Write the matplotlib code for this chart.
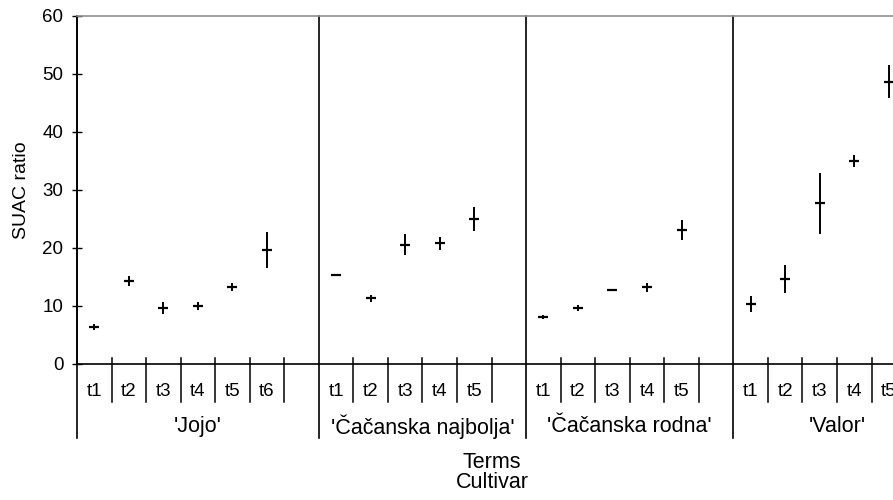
import matplotlib.pyplot as plt

plt.rcParams['font.family'] = ['Liberation Sans', 'DejaVu Sans']

# cultivars and their sampling terms (one empty slot after each group)
cultivars = ["'Jojo'", "'Čačanska najbolja'", "'Čačanska rodna'", "'Valor'"]
terms = [
    ["t1", "t2", "t3", "t4", "t5", "t6"],
    ["t1", "t2", "t3", "t4", "t5"],
    ["t1", "t2", "t3", "t4", "t5"],
    ["t1", "t2", "t3", "t4", "t5"],
]

# SUAC ratio means and error half-widths, per cultivar
means = [
    [6.4, 14.3, 9.7, 10.0, 13.3, 19.6],
    [15.4, 11.3, 20.6, 20.8, 25.0],
    [8.1, 9.7, 12.8, 13.2, 23.1],
    [10.3, 14.6, 27.7, 35.0, 48.7],
]
errs = [
    [0.5, 0.9, 1.0, 0.75, 0.7, 3.1],
    [0.15, 0.6, 1.8, 1.1, 2.0],
    [0.4, 0.5, 0.15, 0.85, 1.8],
    [1.4, 2.4, 5.2, 1.0, 2.9],
]

fig = plt.figure(figsize=(8.93, 5), dpi=100)
ax = fig.add_axes([77 / 893, 1 - 364 / 500, 1 - 77 / 893, 348 / 500])

xs, ys, es = [], [], []
label_x, tick_x, group_x = [], [], []
group_centers = []
start = 0
for g, tl in enumerate(terms):
    n = len(tl) + 1
    group_x.append(start)
    group_centers.append(start + n / 2)
    for i, t in enumerate(tl):
        xs.append(start + i + 0.5)
        ys.append(means[g][i])
        es.append(errs[g][i])
        label_x.append((start + i + 0.5, t))
    for k in range(1, n):
        tick_x.append(start + k)
    start += n
group_x.append(start)

ax.errorbar(xs, ys, yerr=es, fmt='_', color='black', markersize=7,
            mew=1.6, elinewidth=1.4, capsize=0)

ax.set_xlim(0, 23.62)
ax.set_ylim(0, 60)
ax.set_yticks(range(0, 61, 10))
ax.set_xticks([])
ax.tick_params(axis='y', direction='inout', length=7.6, width=1, pad=6,
               labelsize=13.5)
ax.set_ylabel('SUAC ratio', fontsize=14, labelpad=9)

for s in ['left', 'bottom']:
    ax.spines[s].set_linewidth(1.2)
ax.spines['right'].set_visible(False)
ax.spines['top'].set_color('#909090')
ax.spines['top'].set_linewidth(1.2)

trans = ax.get_xaxis_transform()
for x in tick_x:
    ax.plot([x, x], [0.017, -0.109], color='black', lw=1.1,
            transform=trans, clip_on=False)
for x in group_x:
    ax.plot([x, x], [1, -0.213], color='black', lw=1.2,
            transform=trans, clip_on=False)
for x, t in label_x:
    ax.text(x, -0.08, t, transform=trans, ha='center', va='center',
            fontsize=13.5, clip_on=False)
for x, c in zip(group_centers, cultivars):
    ax.text(x, -0.181, c, transform=trans, ha='center', va='center',
            fontsize=15.5, clip_on=False)

fig.text(492 / 893, 1 - 463 / 500, 'Terms', ha='center', va='center',
         fontsize=15.5)
fig.text(492 / 893, 1 - 482 / 500, 'Cultivar', ha='center', va='center',
         fontsize=15.5)

fig.savefig('out.png', dpi=100)
